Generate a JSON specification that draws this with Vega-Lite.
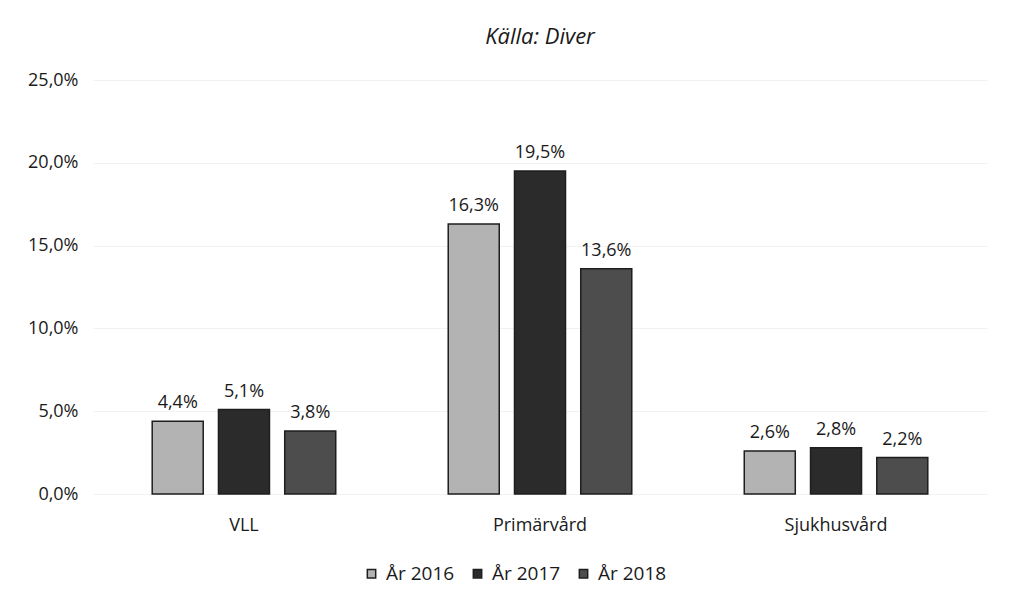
{
  "$schema": "https://vega.github.io/schema/vega-lite/v6.json",
  "width": 894,
  "height": 414,
  "autosize": {"type": "none"},
  "padding": {"left": 93, "right": 45, "top": 80, "bottom": 113},
  "background": "#ffffff",
  "title": {
    "text": "Källa: Diver",
    "font": "Open Sans",
    "fontStyle": "italic",
    "fontWeight": "normal",
    "fontSize": 22,
    "color": "#1a1a1a",
    "anchor": "middle",
    "offset": 22
  },
  "data": {
    "values": [
      {"kategori": "VLL", "ar": "År 2016", "andel": 0.044},
      {"kategori": "VLL", "ar": "År 2017", "andel": 0.051},
      {"kategori": "VLL", "ar": "År 2018", "andel": 0.038},
      {"kategori": "Primärvård", "ar": "År 2016", "andel": 0.163},
      {"kategori": "Primärvård", "ar": "År 2017", "andel": 0.195},
      {"kategori": "Primärvård", "ar": "År 2018", "andel": 0.136},
      {"kategori": "Sjukhusvård", "ar": "År 2016", "andel": 0.026},
      {"kategori": "Sjukhusvård", "ar": "År 2017", "andel": 0.028},
      {"kategori": "Sjukhusvård", "ar": "År 2018", "andel": 0.022}
    ]
  },
  "transform": [
    {"calculate": "replace(format(datum.andel, '.1%'), '.', ',')", "as": "etikett"}
  ],
  "encoding": {
    "x": {
      "field": "kategori",
      "type": "nominal",
      "sort": ["VLL", "Primärvård", "Sjukhusvård"],
      "title": null,
      "scale": {"paddingInner": 0.38, "paddingOuter": 0.2},
      "axis": {
        "labelAngle": 0,
        "domain": false,
        "ticks": false,
        "labelFont": "Open Sans",
        "labelFontSize": 18,
        "labelColor": "#1a1a1a",
        "labelPadding": 22
      }
    },
    "xOffset": {
      "field": "ar",
      "type": "nominal",
      "scale": {"paddingInner": 0.23}
    },
    "y": {
      "field": "andel",
      "type": "quantitative",
      "title": null,
      "scale": {"domain": [0, 0.25]},
      "axis": {
        "values": [0, 0.05, 0.1, 0.15, 0.2, 0.25],
        "labelExpr": "replace(format(datum.value, '.1%'), '.', ',')",
        "domain": false,
        "ticks": false,
        "grid": true,
        "gridColor": "#f2f2f2",
        "labelFont": "Open Sans",
        "labelFontSize": 18,
        "labelColor": "#1a1a1a",
        "labelPadding": 15
      }
    }
  },
  "layer": [
    {
      "mark": {"type": "bar", "stroke": "#1e1e1e", "strokeWidth": 1.5},
      "encoding": {
        "color": {
          "field": "ar",
          "type": "nominal",
          "scale": {"domain": ["År 2016", "År 2017", "År 2018"], "range": ["#b3b3b3", "#2b2b2b", "#4d4d4d"]},
          "legend": {
            "title": null,
            "orient": "none",
            "legendX": 269,
            "legendY": 484,
            "direction": "horizontal",
            "symbolType": "square",
            "symbolSize": 70,
            "symbolStrokeColor": "#1e1e1e",
            "labelFont": "Open Sans",
            "labelFontSize": 19,
            "labelColor": "#1a1a1a",
            "labelOffset": 5,
            "columnPadding": 13
          }
        }
      }
    },
    {
      "mark": {"type": "text", "baseline": "bottom", "dy": -9, "font": "Open Sans", "fontSize": 18, "color": "#1a1a1a"},
      "encoding": {
        "text": {"field": "etikett"}
      }
    }
  ],
  "config": {"view": {"stroke": null}}
}
